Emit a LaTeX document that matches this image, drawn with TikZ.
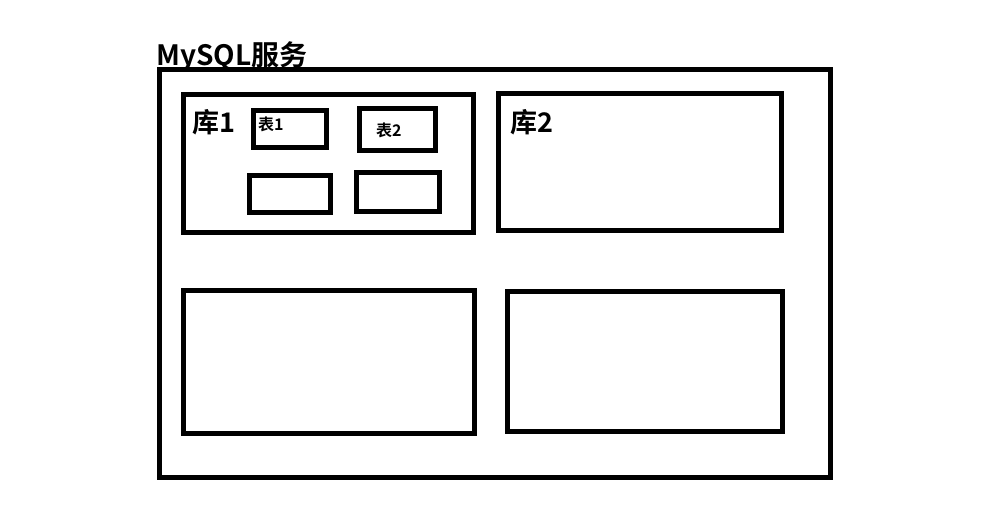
\documentclass[tikz,border=0pt]{standalone}
\usepackage{fontspec}
\setmainfont{Noto Sans CJK SC}[BoldFont={* Bold}]
\newfontfamily\cjkb{Noto Sans CJK SC Bold}
\begin{document}
\begin{tikzpicture}[x=1pt,y=-1pt,
  box/.style={draw=black,line width=5pt},
  lbl/.style={inner sep=0pt,anchor=base west,font=\cjkb}]
\useasboundingbox (0,0) rectangle (1005,531);
\fill[white] (0,0) rectangle (1005,531);
% outer service box
\draw[box] (159.5,69.5) rectangle (830,477);
\node[lbl,font=\cjkb\fontsize{28}{28}\selectfont] (title) at (156,65) {MySQL服务};
% database 1
\draw[box] (183.5,94.5) rectangle (473,232);
\node[lbl,font=\cjkb\fontsize{27}{27}\selectfont] (db1) at (192,132) {库1};
\draw[box] (253.5,110.5) rectangle (326.5,147.5);
\node[lbl,font=\cjkb\fontsize{16}{16}\selectfont] (t1) at (258,130) {表1};
\draw[box] (359.5,108.5) rectangle (435.5,150.5);
\node[lbl,font=\cjkb\fontsize{16}{16}\selectfont] (t2) at (376,136) {表2};
\draw[box] (249.5,175.5) rectangle (330.5,212.5);
\draw[box] (356.5,172.5) rectangle (439.5,211.5);
% database 2
\draw[box] (498.5,93.5) rectangle (781.5,230.5);
\node[lbl,font=\cjkb\fontsize{27}{27}\selectfont] (db2) at (510,132) {库2};
% other databases
\draw[box] (183.5,290.5) rectangle (474.5,433.5);
\draw[box] (507.5,291.5) rectangle (782.5,431.5);
\end{tikzpicture}
\end{document}
